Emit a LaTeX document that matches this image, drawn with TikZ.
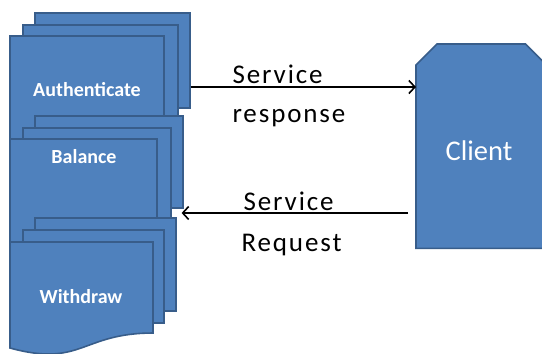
\documentclass[tikz,border=0pt]{standalone}
\usepackage{fontspec}
\setmainfont{Carlito}
\usetikzlibrary{arrows.meta,calc}
\definecolor{boxfill}{HTML}{4F81BD}
\definecolor{boxline}{HTML}{385D8A}
\newcommand\docsheet[4]{\path[sheet] (#1,#2) -- ({#1+#3},#2) -- ({#1+#3},{#2+0.802*#4}) .. controls ({#1+0.5*#3},{#2+0.802*#4}) and ({#1+0.5*#3},{#2+1.107*#4}) .. (#1,{#2+0.934*#4}) -- cycle;}
\begin{document}
\begin{tikzpicture}[x=1pt,y=-1pt,
 sheet/.style={draw=boxline,fill=boxfill,line width=1.6pt},
 backsheet/.style={sheet,rectangle,inner sep=0pt,anchor=north west},
 boxtext/.style={text=white,font=\bfseries\fontsize{20}{24}\selectfont},
 lbl/.style={anchor=base west,font=\addfontfeature{LetterSpace=7}\fontsize{27}{32}\selectfont},
 arr/.style={line width=1.6pt,-{Straight Barb[length=6pt,width=13pt,line width=1.6pt]}}]
\useasboundingbox (0,0) rectangle (542,354);
\clip (0,0) rectangle (542,354);
% stack 1
\node[backsheet,minimum width=155pt,minimum height=95pt] (b1) at (34,12) {};
\node[backsheet,minimum width=155pt,minimum height=95pt] (m1) at (22,24) {};
\docsheet{10}{36}{154}{118}
\node[boxtext] (auth) at (87,90) {Authenticate};
% stack 2
\node[backsheet,minimum width=148pt,minimum height=92pt] (b2) at (34,115) {};
\node[backsheet,minimum width=148pt,minimum height=92pt] (m2) at (22,127) {};
\docsheet{10}{139}{147}{115}
\node[boxtext] (bal) at (84,157) {Balance};
% stack 3
\node[backsheet,minimum width=141pt,minimum height=93pt] (b3) at (34,217) {};
\node[backsheet,minimum width=141pt,minimum height=93pt] (m3) at (22,229) {};
\docsheet{10}{242}{143}{113.5}
\node[boxtext] (wd) at (81,297) {Withdraw};
% client
\node[rectangle,minimum width=130pt,minimum height=204pt,inner sep=0pt,anchor=north west] (client) at (416,44) {};
\path[sheet] (client.south west) -- ($(client.north west)+(0,21)$) -- ($(client.north west)+(21,0)$)
  -- ($(client.north east)+(-21,0)$) -- ($(client.north east)+(0,21)$) -- (client.south east) -- cycle;
\node[text=white,font=\fontsize{28.5}{32}\selectfont,anchor=base] (clienttext) at (479,160) {Client};
% labels
\node[lbl] (l1) at (229,83) {Service};
\node[lbl] (l2) at (229,122) {response};
\node[lbl] (l3) at (240,210) {Service};
\node[lbl] (l4) at (238,251) {Request};
% arrows
\coordinate (y1) at (300,87);
\coordinate (y2) at (300,213);
\draw[arr] (b1.east |- y1) -- (client.west |- y1);
\draw[arr] ([xshift=-8pt]client.west |- y2) -- ([xshift=-2pt]b2.east |- y2);
\end{tikzpicture}
\end{document}
